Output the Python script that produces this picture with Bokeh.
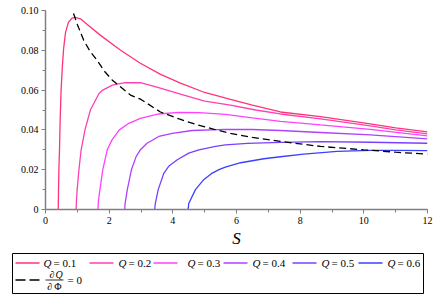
from bokeh.plotting import figure
from bokeh.models import Range1d, SingleIntervalTicker, CustomJSTickFormatter, Label
from bokeh.embed import file_html
from bokeh.resources import INLINE
from bokeh.core.properties import value

# ---------------- data ----------------
Q_values = [0.1, 0.2, 0.3, 0.4, 0.5, 0.6]

S_q01 = [0.40, 0.41, 0.42, 0.44, 0.46, 0.49, 0.53, 0.57, 0.63, 0.72, 0.83, 0.94, 1.1, 1.35, 1.73, 2.36, 2.98, 3.6, 4.24, 5.0, 5.81, 6.5, 7.38, 8.64, 10.2, 11.0, 12.0]
T_q01 = [0.0, 0.01, 0.02, 0.03, 0.045, 0.06, 0.072, 0.081, 0.089, 0.094, 0.0962, 0.0965, 0.0958, 0.0925, 0.0875, 0.080, 0.0735, 0.068, 0.0635, 0.0588, 0.0553, 0.0525, 0.049, 0.0467, 0.043, 0.041, 0.039]

S_q02 = [0.96, 0.975, 0.995, 1.05, 1.12, 1.24, 1.41, 1.68, 1.8, 2.1, 2.5, 2.98, 3.5, 4.24, 5.0, 5.81, 6.6, 7.38, 8.64, 10.2, 11.0, 12.0]
T_q02 = [0.0, 0.005, 0.01, 0.02, 0.03, 0.04, 0.05, 0.0583, 0.060, 0.0625, 0.0638, 0.0637, 0.0615, 0.058, 0.0545, 0.0525, 0.050, 0.048, 0.0455, 0.042, 0.040, 0.038]

S_q03 = [1.65, 1.66, 1.71, 1.80, 1.94, 2.09, 2.32, 2.62, 2.98, 3.56, 4.19, 4.82, 5.65, 6.5, 7.38, 8.64, 10.2, 12.0]
T_q03 = [0.0, 0.004, 0.01, 0.02, 0.03, 0.035, 0.040, 0.0433, 0.0458, 0.048, 0.0488, 0.0487, 0.0478, 0.046, 0.0443, 0.0425, 0.0403, 0.037]

S_q04 = [2.49, 2.5, 2.57, 2.70, 2.85, 2.98, 3.19, 3.56, 3.98, 4.61, 5.65, 6.5, 7.38, 8.64, 10.2, 12.0]
T_q04 = [0.0, 0.003, 0.01, 0.02, 0.0267, 0.030, 0.0333, 0.0367, 0.0383, 0.0397, 0.0403, 0.0402, 0.0397, 0.0387, 0.0375, 0.0355]

S_q05 = [3.43, 3.45, 3.54, 3.72, 3.87, 4.14, 4.50, 4.82, 5.34, 5.65, 6.34, 7.38, 8.64, 10.2, 12.0]
T_q05 = [0.0, 0.003, 0.01, 0.0183, 0.0217, 0.025, 0.0283, 0.030, 0.0317, 0.0325, 0.0332, 0.0337, 0.0341, 0.0338, 0.0333]

S_q06 = [4.48, 4.5, 4.71, 4.97, 5.24, 5.45, 5.65, 6.13, 6.86, 7.38, 8.11, 9.16, 10.2, 11.0, 12.0]
T_q06 = [0.0, 0.003, 0.01, 0.015, 0.0183, 0.020, 0.0213, 0.0235, 0.0255, 0.0265, 0.0278, 0.0292, 0.0297, 0.0297, 0.0296]

S_crit = [0.88, 1.0, 1.2, 1.4, 1.62, 1.85, 2.1, 2.4, 2.67, 3.0, 3.61, 4.2, 4.77, 5.3, 5.81, 6.5, 7.38, 8.64, 10.0, 11.0, 12.0]
T_crit = [0.0985, 0.093, 0.085, 0.0795, 0.075, 0.0695, 0.065, 0.061, 0.0575, 0.0553, 0.049, 0.0455, 0.0425, 0.0403, 0.0383, 0.0362, 0.0342, 0.0317, 0.030, 0.0288, 0.0278]

x_ticks_interval = 2
y_ticks_interval = 0.02

curves_S = [S_q01, S_q02, S_q03, S_q04, S_q05, S_q06]
curves_T = [T_q01, T_q02, T_q03, T_q04, T_q05, T_q06]

# ---------------- style ----------------
colors = ["#ff3377", "#ff3fb4", "#ff40ff", "#b040ff", "#7740ff", "#3a40ff"]
SERIF = "Liberation Serif"
AXIS_COL = "#808080"

p = figure(width=436, height=250, x_range=Range1d(0, 12), y_range=Range1d(0, 0.10),
           output_backend="svg", toolbar_location=None,
           min_border_left=45, min_border_right=9, min_border_top=10, min_border_bottom=40)
p.outline_line_color = None
p.grid.visible = False

for S, T, c in zip(curves_S, curves_T, colors):
    p.line(S, T, line_color=c, line_width=1.3)
p.line(S_crit, T_crit, line_color="black", line_width=1.3, line_dash="7 4")

p.xaxis.ticker = SingleIntervalTicker(interval=x_ticks_interval, num_minor_ticks=2)
p.yaxis.ticker = SingleIntervalTicker(interval=y_ticks_interval, num_minor_ticks=2)
p.yaxis.formatter = CustomJSTickFormatter(code="return Math.abs(tick) < 1e-9 ? '0' : tick.toFixed(2);")
p.xaxis.formatter = CustomJSTickFormatter(code="return tick.toFixed(0);")
for ax in (p.xaxis[0], p.yaxis[0]):
    ax.axis_line_color = AXIS_COL
    ax.axis_line_width = 1.5
    ax.major_tick_line_color = AXIS_COL
    ax.minor_tick_line_color = AXIS_COL
    ax.major_tick_out = 4
    ax.major_tick_in = 0
    ax.minor_tick_out = 3
    ax.minor_tick_in = 0
    ax.major_label_text_font = SERIF
    ax.major_label_text_font_size = "10px"
    ax.major_label_text_color = "black"
    ax.major_label_standoff = 3
p.xaxis.axis_label = "S"
p.xaxis.axis_label_text_font = SERIF
p.xaxis.axis_label_text_font_style = "italic"
p.xaxis.axis_label_text_font_size = "17px"
p.xaxis.axis_label_text_color = "black"
p.xaxis.axis_label_standoff = 2

p.add_layout(Label(x=-0.95, y=0.047, text="T", text_font=SERIF, text_font_style="italic",
                   text_font_size="17px", text_align="center", text_baseline="middle"))

# ---------------- legend figure (separate root, pixel coordinates) ----------------
LW, LH = 436, 47
lf = figure(width=LW, height=LH, x_range=Range1d(0, LW), y_range=Range1d(LH, 0),
            output_backend="svg", toolbar_location=None, min_border=0,
            x_axis_type=None, y_axis_type=None)
lf.outline_line_color = None
lf.grid.visible = False
lf.quad(left=[12], right=[423], top=[3], bottom=[43], fill_color=None, line_color="black", line_width=1)

line_x0 = [15, 89, 153, 223, 292, 358]
text_x0 = [43, 118, 187, 252, 321, 387]
row1_y = 12.5
for i, q in enumerate(Q_values):
    lf.line([line_x0[i], line_x0[i] + 24], [row1_y, row1_y], line_color=colors[i], line_width=1.3)
    lf.text([text_x0[i]], [row1_y], text=["Q"], text_font=value(SERIF), text_font_style="italic",
            text_font_size="11px", text_baseline="middle", text_align="left")
    lf.text([text_x0[i] + 10], [row1_y], text=["= %.1f" % q], text_font=value(SERIF),
            text_font_size="11px", text_baseline="middle", text_align="left")

row2_y = 29.5
lf.line([15, 39], [row2_y, row2_y], line_color="black", line_width=1.3, line_dash="10 4")
lf.text([54], [row2_y - 6], text=["\u2202"], text_font=value(SERIF), text_font_size="10px",
        text_baseline="middle", text_align="right")
lf.text([55], [row2_y - 6], text=["Q"], text_font=value(SERIF), text_font_style="italic",
        text_font_size="10px", text_baseline="middle", text_align="left")
lf.line([45, 63], [row2_y, row2_y], line_color="black", line_width=0.8)
lf.text([54], [row2_y + 6.5], text=["\u2202\u2009\u03a6"], text_font=value(SERIF), text_font_size="10px",
        text_baseline="middle", text_align="center")
lf.text([67], [row2_y], text=["= 0"], text_font=value(SERIF), text_font_size="11px",
        text_baseline="middle", text_align="left")

open("out.html", "w").write(file_html([p, lf], INLINE))
